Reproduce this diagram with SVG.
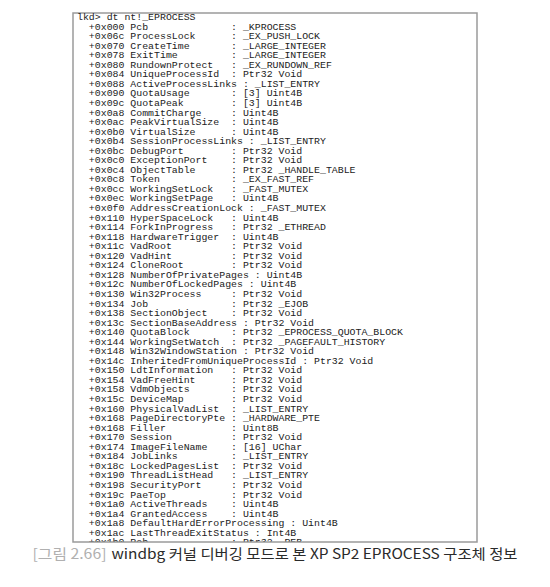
<svg xmlns="http://www.w3.org/2000/svg" width="550" height="587" viewBox="0 0 550 587">
<style>
.m { font-family: "Liberation Mono", "DejaVu Sans Mono", monospace; font-size: 9.9px; fill: #222; white-space: pre; }
.cap { font-family: "Noto Sans CJK KR", "Noto Sans", sans-serif; font-size: 14px; }
</style>
<defs>
<clipPath id="boxclip"><rect x="73" y="13" width="404" height="528.5"/></clipPath>
</defs>
<rect x="0" y="0" width="550" height="587" fill="#ffffff"/>
<g id="console">
<rect x="73" y="13" width="404" height="529" fill="#ffffff" stroke="#9a9a9a" stroke-width="1.5"/>
<g clip-path="url(#boxclip)" xml:space="preserve">
<text class="m" x="77" y="20">lkd&gt; dt nt!_EPROCESS</text>
<text class="m" x="77" y="29.55">  +0x000 Pcb              : _KPROCESS</text>
<text class="m" x="77" y="39.1">  +0x06c ProcessLock      : _EX_PUSH_LOCK</text>
<text class="m" x="77" y="48.65">  +0x070 CreateTime       : _LARGE_INTEGER</text>
<text class="m" x="77" y="58.2">  +0x078 ExitTime         : _LARGE_INTEGER</text>
<text class="m" x="77" y="67.75">  +0x080 RundownProtect   : _EX_RUNDOWN_REF</text>
<text class="m" x="77" y="77.3">  +0x084 UniqueProcessId  : Ptr32 Void</text>
<text class="m" x="77" y="86.85">  +0x088 ActiveProcessLinks : _LIST_ENTRY</text>
<text class="m" x="77" y="96.4">  +0x090 QuotaUsage       : [3] Uint4B</text>
<text class="m" x="77" y="105.95">  +0x09c QuotaPeak        : [3] Uint4B</text>
<text class="m" x="77" y="115.5">  +0x0a8 CommitCharge     : Uint4B</text>
<text class="m" x="77" y="125.05">  +0x0ac PeakVirtualSize  : Uint4B</text>
<text class="m" x="77" y="134.6">  +0x0b0 VirtualSize      : Uint4B</text>
<text class="m" x="77" y="144.15">  +0x0b4 SessionProcessLinks : _LIST_ENTRY</text>
<text class="m" x="77" y="153.7">  +0x0bc DebugPort        : Ptr32 Void</text>
<text class="m" x="77" y="163.25">  +0x0c0 ExceptionPort    : Ptr32 Void</text>
<text class="m" x="77" y="172.8">  +0x0c4 ObjectTable      : Ptr32 _HANDLE_TABLE</text>
<text class="m" x="77" y="182.35">  +0x0c8 Token            : _EX_FAST_REF</text>
<text class="m" x="77" y="191.9">  +0x0cc WorkingSetLock   : _FAST_MUTEX</text>
<text class="m" x="77" y="201.45">  +0x0ec WorkingSetPage   : Uint4B</text>
<text class="m" x="77" y="211">  +0x0f0 AddressCreationLock : _FAST_MUTEX</text>
<text class="m" x="77" y="220.55">  +0x110 HyperSpaceLock   : Uint4B</text>
<text class="m" x="77" y="230.1">  +0x114 ForkInProgress   : Ptr32 _ETHREAD</text>
<text class="m" x="77" y="239.65">  +0x118 HardwareTrigger  : Uint4B</text>
<text class="m" x="77" y="249.2">  +0x11c VadRoot          : Ptr32 Void</text>
<text class="m" x="77" y="258.75">  +0x120 VadHint          : Ptr32 Void</text>
<text class="m" x="77" y="268.3">  +0x124 CloneRoot        : Ptr32 Void</text>
<text class="m" x="77" y="277.85">  +0x128 NumberOfPrivatePages : Uint4B</text>
<text class="m" x="77" y="287.4">  +0x12c NumberOfLockedPages : Uint4B</text>
<text class="m" x="77" y="296.95">  +0x130 Win32Process     : Ptr32 Void</text>
<text class="m" x="77" y="306.5">  +0x134 Job              : Ptr32 _EJOB</text>
<text class="m" x="77" y="316.05">  +0x138 SectionObject    : Ptr32 Void</text>
<text class="m" x="77" y="325.6">  +0x13c SectionBaseAddress : Ptr32 Void</text>
<text class="m" x="77" y="335.15">  +0x140 QuotaBlock       : Ptr32 _EPROCESS_QUOTA_BLOCK</text>
<text class="m" x="77" y="344.7">  +0x144 WorkingSetWatch  : Ptr32 _PAGEFAULT_HISTORY</text>
<text class="m" x="77" y="354.25">  +0x148 Win32WindowStation : Ptr32 Void</text>
<text class="m" x="77" y="363.8">  +0x14c InheritedFromUniqueProcessId : Ptr32 Void</text>
<text class="m" x="77" y="373.35">  +0x150 LdtInformation   : Ptr32 Void</text>
<text class="m" x="77" y="382.9">  +0x154 VadFreeHint      : Ptr32 Void</text>
<text class="m" x="77" y="392.45">  +0x158 VdmObjects       : Ptr32 Void</text>
<text class="m" x="77" y="402">  +0x15c DeviceMap        : Ptr32 Void</text>
<text class="m" x="77" y="411.55">  +0x160 PhysicalVadList  : _LIST_ENTRY</text>
<text class="m" x="77" y="421.1">  +0x168 PageDirectoryPte : _HARDWARE_PTE</text>
<text class="m" x="77" y="430.65">  +0x168 Filler           : Uint8B</text>
<text class="m" x="77" y="440.2">  +0x170 Session          : Ptr32 Void</text>
<text class="m" x="77" y="449.75">  +0x174 ImageFileName    : [16] UChar</text>
<text class="m" x="77" y="459.3">  +0x184 JobLinks         : _LIST_ENTRY</text>
<text class="m" x="77" y="468.85">  +0x18c LockedPagesList  : Ptr32 Void</text>
<text class="m" x="77" y="478.4">  +0x190 ThreadListHead   : _LIST_ENTRY</text>
<text class="m" x="77" y="487.95">  +0x198 SecurityPort     : Ptr32 Void</text>
<text class="m" x="77" y="497.5">  +0x19c PaeTop           : Ptr32 Void</text>
<text class="m" x="77" y="507.05">  +0x1a0 ActiveThreads    : Uint4B</text>
<text class="m" x="77" y="516.6">  +0x1a4 GrantedAccess    : Uint4B</text>
<text class="m" x="77" y="526.15">  +0x1a8 DefaultHardErrorProcessing : Uint4B</text>
<text class="m" x="77" y="535.7">  +0x1ac LastThreadExitStatus : Int4B</text>
<text class="m" x="77" y="545.25">  +0x1b0 Peb              : Ptr32 _PEB</text>
</g>
</g>
<g id="caption">
<text class="cap" x="32.5" y="559" fill="#b0b0b0" textLength="74" lengthAdjust="spacingAndGlyphs">[그림 2.66]</text>
<text class="cap" x="111.5" y="559" fill="#2a2a2a" textLength="406" lengthAdjust="spacingAndGlyphs">windbg 커널 디버깅 모드로 본 XP SP2 EPROCESS 구조체 정보</text>
</g>
</svg>
